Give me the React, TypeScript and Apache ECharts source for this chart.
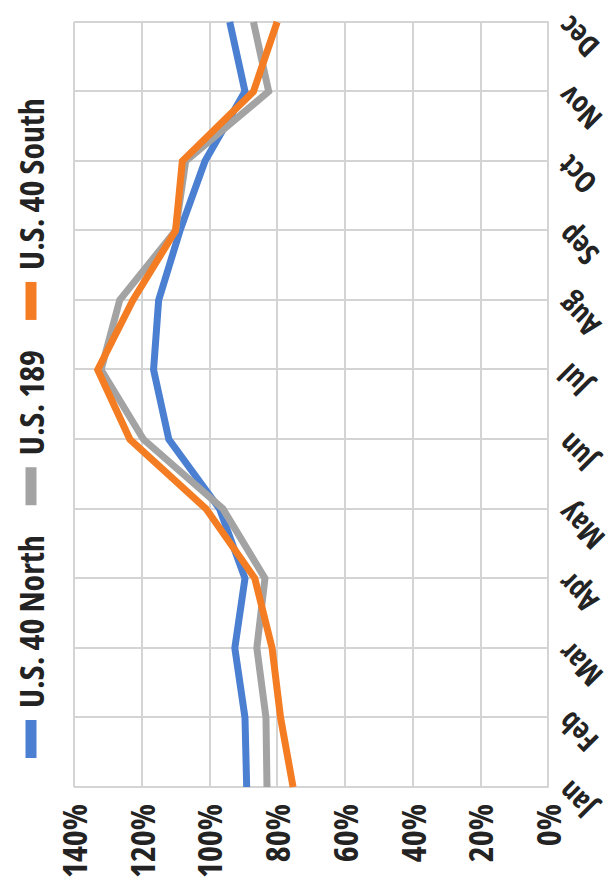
import React, { useEffect, useRef } from "react";
import * as echarts from "echarts";

// Monthly traffic as a share of the annual average, per corridor (percent)
const months = ["Jan", "Feb", "Mar", "Apr", "May", "Jun", "Jul", "Aug", "Sep", "Oct", "Nov", "Dec"];
const us40North = [89, 89.5, 92.5, 89.5, 97, 112, 116.5, 115, 108.7, 101.3, 89.5, 94];
const us189 = [83, 83.3, 86, 83.6, 96, 119.5, 132, 126.5, 110, 107, 82.5, 87];
const us40South = [75.3, 79, 81.5, 86.6, 101, 123.5, 133, 122.6, 110, 108, 87, 80];
const valueTicks = { min: 0, max: 140, step: 20 };

// Bold condensed type: the stretch goes in fontStyle so that text measurement
// uses it, and a stylesheet applies it to the SVG text.
const FONT = "'Open Sans', 'Noto Sans', sans-serif";
const STRETCH = "condensed";
const TEXT = "#232323";
const GRID = "#d4d4d4";

// The chart is laid out landscape (879 x 613) and turned a quarter turn
// counter-clockwise to fill the portrait page.
const W = 879;
const H = 613;

const textStyle = (size: number) => ({
  fontFamily: FONT,
  fontSize: size,
  fontWeight: "bold",
  fontStyle: STRETCH,
  color: TEXT,
});

export default function App() {
  const ref = useRef<HTMLDivElement>(null);

  useEffect(() => {
    if (!ref.current) return;
    const chart = echarts.init(ref.current, undefined, { renderer: "svg" });
    chart.setOption({
      animation: false,
      backgroundColor: "#ffffff",
      color: ["#4a7fd1", "#a3a3a3", "#f47c22"],
      legend: {
        left: 116,
        top: 9,
        icon: "rect",
        itemWidth: 38,
        itemHeight: 11,
        itemGap: 30,
        textStyle: { ...textStyle(34), lineHeight: 34, padding: [0, 0, 0, 7] },
        data: ["U.S. 40 North", "U.S. 189", "U.S. 40 South"],
      },
      grid: { left: 92, right: 22, top: 74, bottom: 65, containLabel: false, outerBoundsMode: "none" },
      xAxis: {
        type: "category",
        data: months,
        boundaryGap: false,
        axisLine: { show: true, lineStyle: { color: GRID, width: 2 } },
        axisTick: { show: false },
        splitLine: { show: true, lineStyle: { color: GRID, width: 2 } },
        axisLabel: { rotate: 45, margin: 15, ...textStyle(30) },
      },
      yAxis: {
        type: "value",
        min: valueTicks.min,
        max: valueTicks.max,
        interval: valueTicks.step,
        axisLine: { show: false },
        axisTick: { show: false },
        splitLine: { show: true, lineStyle: { color: GRID, width: 2 } },
        axisLabel: { margin: 17, formatter: "{value}%", ...textStyle(34) },
      },
      series: [
        { name: "U.S. 40 North", data: us40North },
        { name: "U.S. 189", data: us189 },
        { name: "U.S. 40 South", data: us40South },
      ].map((s) => ({
        ...s,
        type: "line",
        showSymbol: false,
        symbol: "none",
        lineStyle: { width: 7, join: "miter" },
      })),
    });
    return () => chart.dispose();
  }, []);

  return (
    <div
      style={{
        position: "fixed",
        left: 0,
        top: 0,
        width: H,
        height: W,
        overflow: "hidden",
        background: "#ffffff",
      }}
    >
      <style>{`.traffic-chart svg text { font-stretch: ${STRETCH}; }`}</style>
      <div
        ref={ref}
        className="traffic-chart"
        style={{
          position: "absolute",
          left: 0,
          top: 0,
          width: W,
          height: H,
          transformOrigin: "0 0",
          transform: `translate(0px, ${W}px) rotate(-90deg)`,
        }}
      />
    </div>
  );
}
